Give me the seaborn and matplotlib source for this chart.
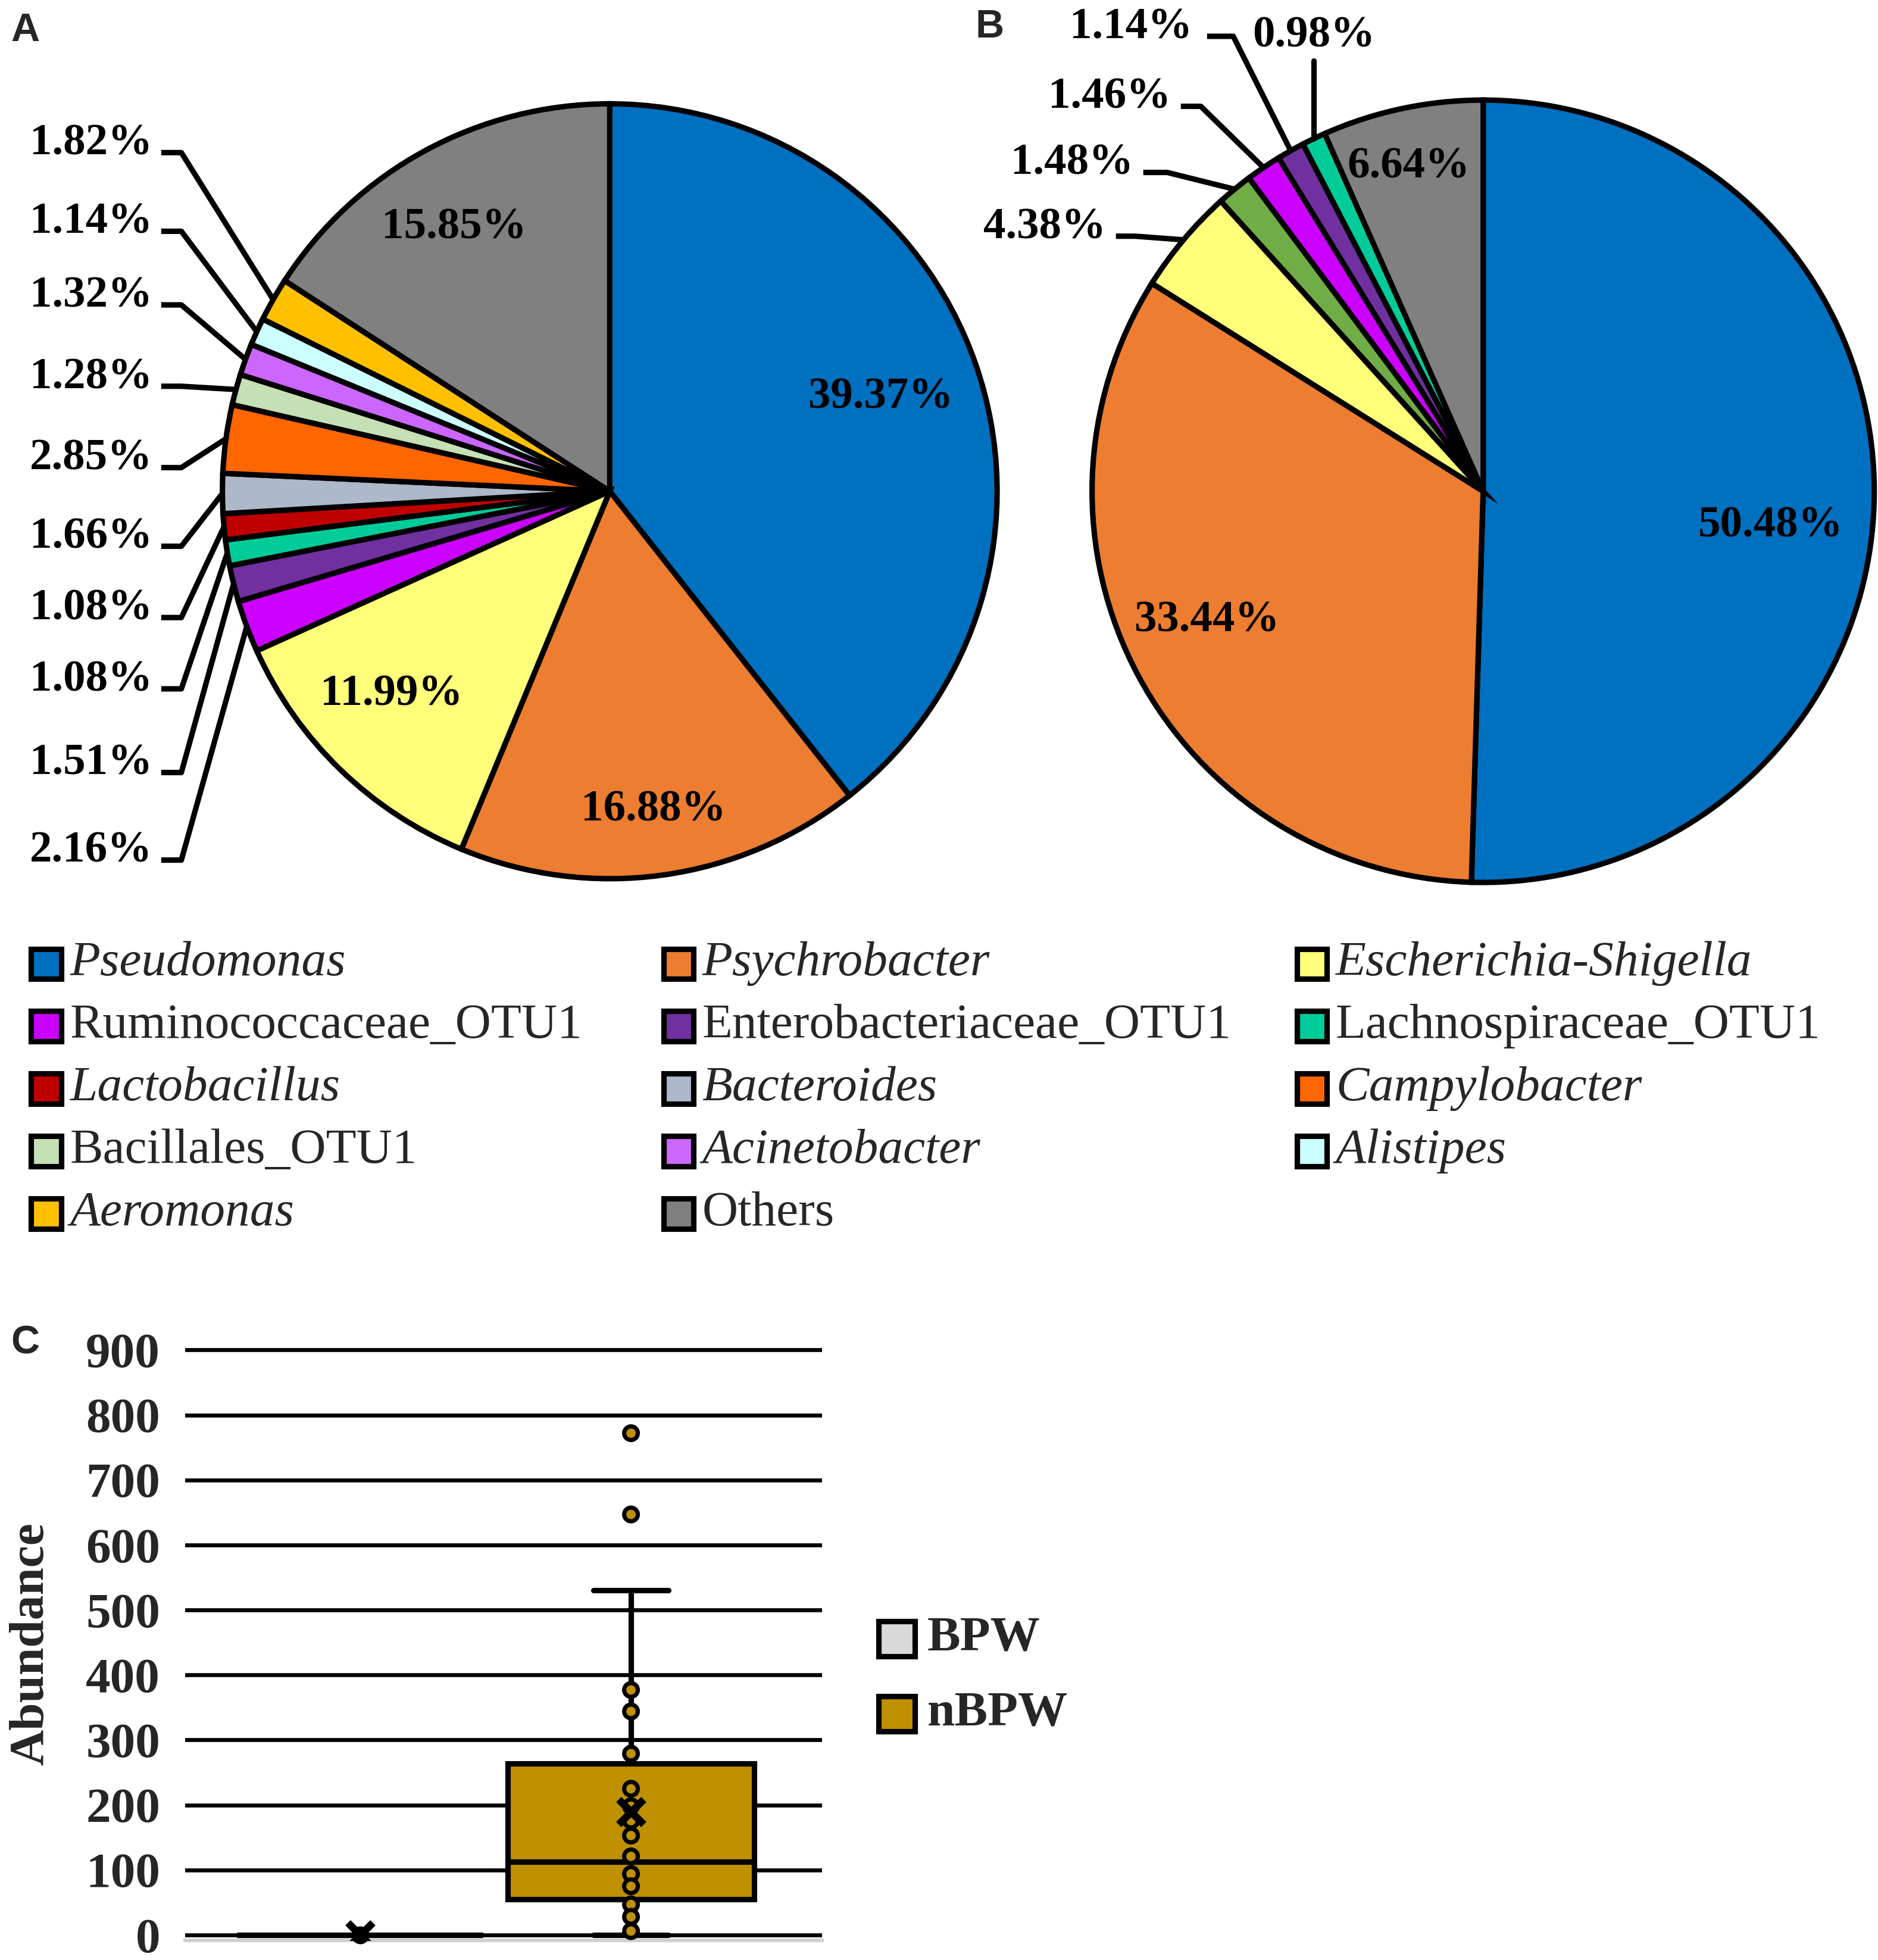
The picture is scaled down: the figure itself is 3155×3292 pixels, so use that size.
import numpy as np
import pandas as pd
import matplotlib
matplotlib.use("Agg")
import matplotlib.pyplot as plt
from matplotlib.patches import Rectangle
import seaborn as sns

# ---- data ----
taxa = ['Pseudomonas', 'Psychrobacter', 'Escherichia-Shigella', 'Ruminococcaceae_OTU1',
        'Enterobacteriaceae_OTU1', 'Lachnospiraceae_OTU1', 'Lactobacillus', 'Bacteroides',
        'Campylobacter', 'Bacillales_OTU1', 'Acinetobacter', 'Alistipes', 'Aeromonas', 'Others']
italic = [True, True, True, False, False, False, True, True, True, False, True, True, True, False]
taxa_colors = ['#0070C0', '#ED7D31', '#FFFF79', '#CC00FF', '#7030A0', '#00CC99', '#C00000',
               '#ADB9CA', '#FF6600', '#C5E0B4', '#CC66FF', '#CCFFFF', '#FFC000', '#808080']

# panel A (same order as taxa)
pct_a = [39.37, 16.88, 11.99, 2.16, 1.51, 1.08, 1.08, 1.66, 2.85, 1.28, 1.32, 1.14, 1.82, 15.85]

# panel B
pct_b = [50.48, 33.44, 4.38, 1.48, 1.46, 1.14, 0.98, 6.64]
colors_b = ['#0070C0', '#ED7D31', '#FFFF79', '#70AD47', '#CC00FF', '#7030A0', '#00CC99', '#808080']

# panel C
groups = ['BPW', 'nBPW']
group_colors = ['#D9D9D9', '#BF9000']
nbpw_points = [772, 647, 377, 344, 279, 225, 198, 176, 153, 121, 94, 75, 47, 28, 6]
bpw_points = [0]
box_q1 = [0, 55]
box_med = [0, 113]
box_q3 = [0, 264]
box_lo = [0, 0]
box_hi = [0, 530]
box_mean = [0, 190]

# ---- style ----
sns.set_style("white")
plt.rcParams['font.family'] = ['Liberation Serif', 'DejaVu Serif']

W, H = 1503.0, 1568.0  # layout grid measured on the reference
fx = lambda x: x / W
fy = lambda y: 1 - y / H

fig = plt.figure(figsize=(3155 / 300, 3292 / 300), dpi=300)
LW = 2.2
LBL = dict(fontsize=18, fontweight='bold', color='black')


def draw_pie(cx, cy, r, pct, cols):
    ax = fig.add_axes([fx(cx - r), fy(cy + r), (2 * r) / W, (2 * r) / H])
    wedges, _ = ax.pie(pct, colors=cols, startangle=90, counterclock=False, radius=1,
                       wedgeprops=dict(edgecolor='black', linewidth=LW))
    for w in wedges:
        w.set_clip_on(False)
    ax.set_xlim(-1, 1)
    ax.set_ylim(-1, 1)
    ax.set_aspect('equal')
    ax.axis('off')
    mids = [np.deg2rad((w.theta1 + w.theta2) / 2) for w in wedges]
    return ax, mids


def inner_labels(ax, mids, pct, idx, radii, offs):
    for i, rr, off in zip(idx, radii, offs):
        a = mids[i] + np.deg2rad(off)
        ax.text(rr * np.cos(a), rr * np.sin(a), f"{pct[i]:.2f}%", ha='center', va='center', **LBL)


def outer_labels(ax, mids, pct, idx, tx, sy, sx0, sx1):
    for i, t, y, x0, x1 in zip(idx, tx, sy, sx0, sx1):
        ex, ey = np.cos(mids[i]), np.sin(mids[i])
        ax.plot([x0, x1, ex], [y, y, ey], color='black', lw=LW, clip_on=False,
                solid_capstyle='butt')
        ax.text(t, y - 0.005, f"{pct[i]:.2f}%", ha='right', va='baseline', clip_on=False, **LBL)


# ---- panel A ----
axA, midsA = draw_pie(488, 393, 310, pct_a, taxa_colors)
inner_labels(axA, midsA, pct_a, [0, 1, 2, 13], [0.74, 0.83, 0.77, 0.79], [0, 0, -3, 2])
idxA = [12, 11, 10, 9, 8, 7, 6, 5, 4, 3]
ysA = [0.874, 0.671, 0.481, 0.271, 0.061, -0.142, -0.326, -0.510, -0.726, -0.952]
outer_labels(axA, midsA, pct_a, idxA, [-1.181] * 10, ysA, [-1.158] * 10, [-1.106] * 10)

# ---- panel B ----
axB, midsB = draw_pie(1187, 393, 313, pct_b, colors_b)
inner_labels(axB, midsB, pct_b, [0, 1, 7], [0.74, 0.78, 0.85], [-6, -3, 1])
outer_labels(axB, midsB, pct_b, [2, 3, 4, 5],
             [-0.965, -0.895, -0.799, -0.744],
             [0.652, 0.815, 0.984, 1.163],
             [-0.939, -0.869, -0.773, -0.706],
             [-0.890, -0.808, -0.722, -0.639])
vx = np.cos(midsB[6])
axB.plot([vx, vx], [1.10, np.sin(midsB[6])], color='black', lw=LW, clip_on=False)
axB.text(vx, 1.163, f"{pct_b[6]:.2f}%", ha='center', va='center', clip_on=False, **LBL)

# ---- shared legend ----
col_x = [25, 531, 1038]
row_y = [771, 821, 871, 921, 971]
sq = 24
for i, (name, c, it) in enumerate(zip(taxa, taxa_colors, italic)):
    x0, y0 = col_x[i % 3], row_y[i // 3]
    fig.add_artist(Rectangle((fx(x0), fy(y0 + sq / 2)), sq / W, sq / H, transform=fig.transFigure,
                             facecolor=c, edgecolor='black', linewidth=LW))
    fig.text(fx(x0 + 31), fy(y0), name, fontsize=20, style='italic' if it else 'normal',
             va='center', ha='left')

# ---- panel C ----
ylo, yhi = -8, 905
y0px, per = 1548, 0.52
axC = fig.add_axes([fx(148), fy(y0px - ylo * per), 510 / W, (yhi - ylo) * per / H])
df = pd.DataFrame({'group': ['BPW'] * len(bpw_points) + ['nBPW'] * len(nbpw_points),
                   'value': bpw_points + nbpw_points})
stats = [dict(q1=box_q1[k], med=box_med[k], q3=box_q3[k], whislo=box_lo[k], whishi=box_hi[k],
              mean=box_mean[k], label=g) for k, g in enumerate(groups)]
bp = axC.bxp(stats, positions=[0, 1], widths=0.908, capwidths=[0.0, 0.276], patch_artist=True,
             showfliers=False, showmeans=True,
             boxprops=dict(edgecolor='black', linewidth=LW),
             medianprops=dict(color='black', linewidth=LW),
             whiskerprops=dict(color='black', linewidth=LW),
             capprops=dict(color='black', linewidth=LW),
             meanprops=dict(marker='x', markeredgecolor='black', markersize=10,
                            markeredgewidth=3.0, zorder=6))
for patch, c in zip(bp['boxes'], group_colors):
    patch.set_facecolor(c)
    patch.set_zorder(2)
sns.stripplot(data=df, x='group', y='value', order=groups, hue='group', hue_order=groups,
              palette=dict(zip(groups, group_colors)), jitter=False, size=5.5,
              edgecolor='black', linewidth=1.7, legend=False, ax=axC, zorder=4, clip_on=False)
axC.set_xlim(-0.645, 1.705)
axC.set_ylim(ylo, yhi)
axC.set_yticks(range(0, 1000, 100))
axC.set_yticklabels([str(v) for v in range(0, 1000, 100)], fontsize=20, fontweight='bold')
axC.set_xticks([])
axC.set_xlabel('')
axC.set_ylabel('')
axC.tick_params(axis='y', length=0, pad=10)
axC.set_axisbelow(True)
axC.yaxis.grid(True, color='black', linewidth=1.6)
for s in ['top', 'right', 'left']:
    axC.spines[s].set_visible(False)
axC.spines['bottom'].set_color('#D0D0D0')
axC.spines['bottom'].set_linewidth(1.5)

fig.text(fx(25), fy(1315), 'Abundance', rotation=90, fontsize=20, fontweight='bold',
         ha='center', va='center')

for g, c, yy in zip(groups, group_colors, [1311, 1371]):
    fig.add_artist(Rectangle((fx(703), fy(yy + 14)), 29 / W, 28 / H, transform=fig.transFigure,
                             facecolor=c, edgecolor='black', linewidth=LW))
    fig.text(fx(742), fy(yy), g, fontsize=20, fontweight='bold', va='center', ha='left')

# panel letters
for letter, x, y in [('A', 20, 25), ('B', 792, 22), ('C', 20, 1075)]:
    fig.text(fx(x), fy(y), letter, fontsize=16, fontweight='bold', family='Liberation Sans',
             ha='center', va='center')

fig.savefig('out.png', dpi=300)
